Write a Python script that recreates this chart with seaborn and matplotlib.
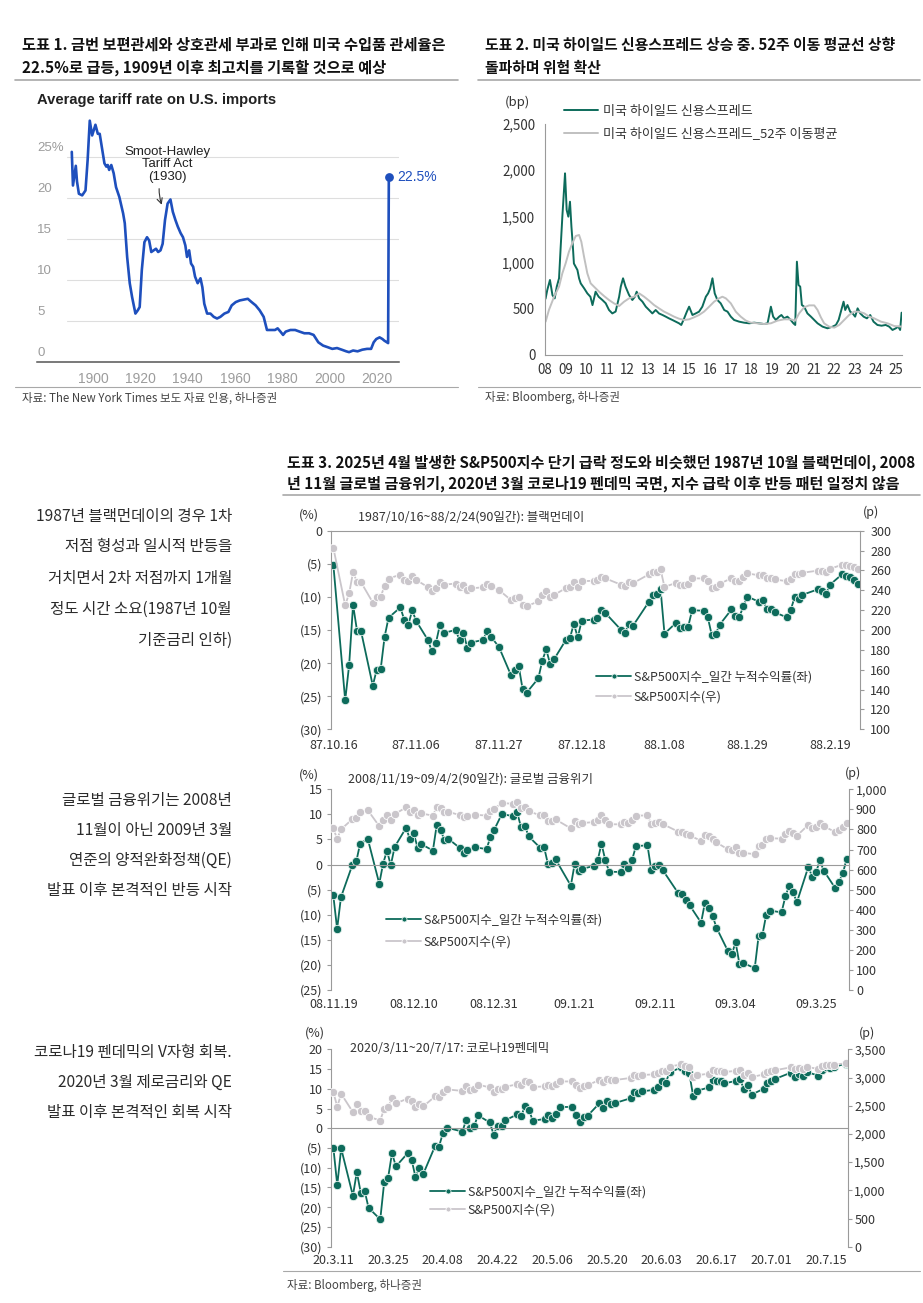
import matplotlib
matplotlib.use('Agg')
import numpy as np
import pandas as pd
import matplotlib.pyplot as plt
import matplotlib.dates as mdates
import seaborn as sns
from matplotlib.lines import Line2D

# ---- 도표 1: 미국 수입품 평균 관세율 (%) ----
tariff_year = [1891, 1891.5, 1892.7, 1893.2, 1894, 1895.4, 1896.8, 1897.7, 1898.6, 1899.6,
               1901, 1902, 1902.8, 1903.8, 1904.8, 1905.6, 1906.2, 1906.8, 1907.7, 1908.7,
               1909.7, 1911.1, 1912.7, 1913.4, 1914.4, 1915.5, 1916.5, 1917.9, 1918.9, 1919.7,
               1920.6, 1921.7, 1922.8, 1923.7, 1924.6, 1925.6, 1926.6, 1927.5, 1928.5, 1929.4,
               1930.4, 1931.5, 1932.7, 1933.7, 1934.8, 1935.8, 1937, 1938, 1939, 1939.7,
               1940.6, 1941.4, 1942.3, 1943.1, 1944.2, 1945.4, 1946.2, 1947, 1948.2, 1949.6,
               1951, 1952.4, 1953.8, 1955.5, 1957.2, 1958.6, 1960.3, 1962, 1963.7, 1965.4,
               1967, 1968.7, 1970.4, 1972.1, 1973.5, 1975.2, 1976.9, 1978, 1979.2, 1980.3,
               1981.4, 1983.4, 1985.4, 1987.3, 1989.3, 1991.3, 1993.2, 1995.2, 1997.2, 1999.2,
               2001.1, 2003.1, 2005.1, 2007, 2008.2, 2009.9, 2011.8, 2013.8, 2015.8, 2017.5,
               2018.6, 2019.7, 2021.1, 2022.3, 2023.1, 2024.2, 2024.7, 2025]
tariff_rate = [25.6, 21.5, 23.9, 22.0, 20.5, 20.3, 20.9, 24.6, 29.4, 27.6,
               28.9, 27.8, 27.8, 26.0, 24.2, 23.8, 24.0, 23.4, 24.0, 23.0,
               21.3, 20.1, 18.1, 16.9, 12.8, 9.6, 7.9, 5.9, 6.3, 6.7,
               11.2, 14.6, 15.2, 14.8, 13.4, 13.6, 13.8, 13.4, 13.6, 14.4,
               17.3, 19.3, 19.8, 18.3, 17.3, 16.5, 15.7, 15.2, 14.2, 12.8,
               13.6, 12.0, 11.6, 10.4, 9.6, 10.2, 9.1, 7.1, 5.9, 5.9,
               5.5, 5.3, 5.5, 5.9, 6.1, 6.9, 7.3, 7.5, 7.6, 7.7,
               7.3, 6.9, 6.3, 5.5, 3.9, 3.9, 3.9, 4.1, 3.7, 3.3,
               3.7, 3.9, 3.9, 3.7, 3.5, 3.5, 3.3, 2.4, 2.0, 1.8,
               1.6, 1.7, 1.5, 1.3, 1.2, 1.4, 1.3, 1.5, 1.6, 1.6,
               2.4, 2.8, 3.0, 2.8, 2.6, 2.4, 2.3, 22.5]
tariff_grid = [5, 10, 15, 20, 25]
tariff_grid_labels = ['5', '10', '15', '20', '25%']
tariff_xticks = [1900, 1920, 1940, 1960, 1980, 2000, 2020]

# ---- 도표 2: 미국 하이일드 신용스프레드 (bp) ----
spread_t = [2008.00, 2008.03, 2008.11, 2008.24, 2008.36, 2008.47, 2008.57, 2008.68, 2008.76, 2008.84,
            2008.92, 2008.97, 2009.05, 2009.13, 2009.21, 2009.28, 2009.34, 2009.40, 2009.57, 2009.65,
            2009.73, 2009.90, 2010.05, 2010.20, 2010.30, 2010.45, 2010.60, 2010.78, 2010.94, 2011.10,
            2011.26, 2011.42, 2011.59, 2011.67, 2011.78, 2011.90, 2012.07, 2012.23, 2012.35, 2012.44,
            2012.56, 2012.72, 2012.88, 2013.04, 2013.20, 2013.36, 2013.52, 2013.69, 2013.85, 2014.00,
            2014.17, 2014.33, 2014.49, 2014.60, 2014.74, 2014.87, 2014.98, 2015.14, 2015.30, 2015.46,
            2015.62, 2015.79, 2015.90, 2016.00, 2016.11, 2016.22, 2016.35, 2016.51, 2016.68, 2016.84,
            2017.00, 2017.16, 2017.40, 2017.64, 2017.89, 2018.13, 2018.37, 2018.61, 2018.78, 2018.94,
            2019.05, 2019.18, 2019.34, 2019.45, 2019.58, 2019.74, 2019.90, 2020.03, 2020.12, 2020.20,
            2020.28, 2020.36, 2020.44, 2020.55, 2020.71, 2020.88, 2021.04, 2021.20, 2021.44, 2021.68,
            2021.93, 2022.09, 2022.22, 2022.33, 2022.46, 2022.54, 2022.65, 2022.78, 2022.90, 2023.02,
            2023.14, 2023.27, 2023.43, 2023.59, 2023.75, 2023.91, 2024.10, 2024.30, 2024.50, 2024.67,
            2024.83, 2024.99, 2025.11, 2025.20, 2025.27]
spread_bp = [600, 613, 703, 812, 649, 613, 740, 830, 1172, 1497,
             1785, 1966, 1569, 1497, 1659, 1389, 1208, 990, 920, 830,
             775, 720, 667, 630, 540, 685, 630, 595, 560, 487,
             450, 470, 630, 740, 830, 740, 650, 595, 630, 685,
             613, 577, 523, 487, 450, 487, 450, 433, 415, 397,
             379, 361, 343, 325, 397, 469, 523, 433, 450, 469,
             523, 631, 667, 721, 830, 667, 595, 559, 487, 469,
             415, 379, 361, 350, 343, 350, 343, 335, 343, 523,
             415, 379, 415, 433, 397, 415, 379, 343, 325, 1010,
             757, 740, 541, 523, 450, 415, 379, 343, 307, 289,
             307, 325, 379, 469, 577, 487, 541, 469, 450, 415,
             505, 450, 415, 397, 433, 361, 325, 317, 325, 307,
             271, 289, 307, 271, 458]
ma_t = [2008.03, 2008.19, 2008.44, 2008.68, 2008.84, 2009.00, 2009.16, 2009.32, 2009.49, 2009.65,
        2009.76, 2009.89, 2010.05, 2010.21, 2010.37, 2010.62, 2010.86, 2011.10, 2011.34, 2011.59,
        2011.83, 2012.07, 2012.31, 2012.56, 2012.80, 2013.04, 2013.28, 2013.52, 2013.77, 2014.00,
        2014.25, 2014.49, 2014.74, 2014.98, 2015.22, 2015.46, 2015.70, 2015.95, 2016.19, 2016.43,
        2016.59, 2016.76, 2017.00, 2017.24, 2017.48, 2017.73, 2017.97, 2018.29, 2018.61, 2018.94,
        2019.26, 2019.58, 2019.90, 2020.12, 2020.31, 2020.55, 2020.79, 2021.04, 2021.20, 2021.36,
        2021.52, 2021.76, 2022.01, 2022.25, 2022.49, 2022.73, 2022.97, 2023.21, 2023.46, 2023.70,
        2023.94, 2024.27, 2024.59, 2024.91, 2025.27]
ma_bp = [361, 487, 631, 740, 884, 992, 1118, 1208, 1288, 1299,
         1226, 1064, 884, 776, 740, 685, 638, 595, 559, 530,
         577, 613, 631, 667, 631, 588, 541, 505, 469, 444,
         415, 393, 379, 386, 408, 433, 469, 523, 577, 613,
         631, 613, 559, 469, 415, 372, 350, 343, 335, 343,
         372, 386, 386, 372, 451, 516, 537, 537, 487, 408,
         343, 307, 296, 325, 379, 433, 469, 469, 451, 415,
         397, 361, 343, 314, 307]
spread_years = list(range(2008, 2026))
spread_labels = [f'{y % 100:02d}' for y in spread_years]
spread_yticks = [0, 500, 1000, 1500, 2000, 2500]

# ---- 도표 3: S&P500 급락 이후 반등 (누적수익률 %, 지수 p) ----
ret_1987 = [-5.16, -25.63, -20.29, -11.19, -15.12, -15.13, -23.41, -20.98, -20.94, -16.02, -13.15,
            -11.58, -13.50, -14.25, -12.03, -13.63, -16.52, -18.24, -17.02, -14.29, -15.45,
            -14.99, -16.50, -15.47, -17.71, -16.89, -16.49, -15.09, -16.02, -17.56, -21.74,
            -21.00, -20.37, -23.90, -24.48, -22.31, -19.62, -17.93, -20.16, -19.41, -16.49, -16.24,
            -14.07, -16.12, -13.58, -13.43, -13.26, -11.98, -12.43, -14.99, -15.39, -14.05, -14.37,
            -10.78, -9.73, -9.63, -8.79, -15.56, -13.88, -14.72, -14.56, -14.53, -12.02,
            -12.09, -13.11, -15.79, -15.58, -14.20, -11.90, -12.93, -13.01, -11.44, -9.95,
            -10.74, -10.53, -11.85, -11.85, -12.34, -13.08, -12.03, -10.07, -10.34, -9.69,
            -8.84, -9.08, -9.58, -8.15, -6.61, -6.84, -7.06, -7.38, -8.00]
idx_1987 = [282.70, 224.84, 236.83, 258.38, 248.25, 248.22, 227.67, 233.19, 233.28, 244.77, 251.79,
            255.75, 250.82, 248.96, 254.48, 250.41, 243.17, 239.00, 241.90, 248.52, 245.64,
            246.76, 243.04, 245.55, 240.05, 242.00, 242.99, 246.39, 244.10, 240.34, 230.30,
            232.00, 233.45, 225.21, 223.92, 228.76, 234.91, 238.89, 233.57, 235.32, 242.19, 242.81,
            248.08, 242.98, 249.16, 249.54, 249.95, 253.16, 252.03, 245.57, 244.59, 247.86, 247.08,
            255.94, 258.63, 258.89, 261.07, 243.40, 247.49, 245.42, 245.81, 245.88, 252.05,
            251.88, 249.32, 242.63, 243.14, 246.50, 252.17, 249.57, 249.38, 253.29, 257.07,
            255.04, 255.57, 252.21, 252.21, 250.96, 249.10, 251.72, 256.66, 255.95, 257.63,
            259.83, 259.21, 257.91, 261.61, 265.64, 265.02, 264.43, 263.60, 261.90]
ret_2008 = [-6.12, -12.83, -6.50, -0.03, 0.63, 4.16, 5.12,
            -3.81, 0.19, 2.77, -0.16, 3.49, 7.33, 5.02, 6.21, 3.36, 4.06, 2.79,
            7.93, 6.97, 4.85, 5.15, 3.32, 2.34, 2.92, 3.46, 3.07, 5.51, 6.93,
            10.09, 9.62, 10.40, 7.40, 7.74, 5.61, 3.35, 3.53, 0.18, 0.32,
            1.07, -4.21, 0.14, -1.38, -0.84, -0.28, 0.81, 4.16, 0.85, -1.43,
            -1.48, 0.10, -0.65, 0.99, 3.68, 3.83, -1.09, -0.29, -0.12, -1.12,
            -5.67, -5.77, -6.97, -8.11, -11.58, -7.57, -8.64, -10.22, -12.57,
            -17.24, -17.88, -15.50, -19.76, -19.63, -20.64, -14.27, -14.03, -9.96, -9.18,
            -9.53, -6.32, -4.23, -5.53, -7.51, -0.43, -2.48, -1.51, 0.82, -1.21, -4.69, -3.38,
            -1.72, 1.15]
idx_2008 = [806.58, 752.44, 800.03, 851.81, 857.39, 887.68, 896.24,
            816.21, 848.81, 870.74, 845.22, 876.07, 909.70, 888.67, 899.24, 873.59, 879.73, 868.57,
            913.18, 904.42, 885.28, 887.88, 871.63, 863.16, 868.15, 872.80, 869.42, 890.64, 903.25,
            931.80, 927.45, 934.70, 906.65, 909.73, 890.35, 870.26, 871.79, 842.62, 843.74,
            850.12, 805.22, 840.24, 827.50, 831.95, 836.57, 845.71, 874.09, 845.14, 825.88,
            825.44, 838.51, 832.23, 845.85, 868.60, 869.89, 827.16, 833.74, 835.19, 826.84,
            789.17, 788.42, 778.94, 770.05, 743.33, 773.14, 764.90, 752.83, 735.09,
            700.82, 696.33, 712.87, 682.55, 683.38, 676.53, 719.60, 721.36, 750.74, 756.55,
            753.89, 778.12, 794.35, 784.04, 768.54, 822.92, 806.12, 813.88, 832.86, 815.94, 787.53, 797.87,
            811.08, 834.38]
ret_2020 = [-4.89, -14.40, -5.11, -17.09, -11.10, -16.28, -15.81, -20.15, -23.08, -13.69,
            -12.54, -6.30, -9.67, -6.32, -7.92,
            -12.33, -10.05, -11.56, -4.53, -4.69, -1.29, 0.16, -0.85, 2.21, 0.00,
            0.58, 3.26, 1.47, -1.60, 0.69, 0.64, 2.03, 3.50, 2.98, 5.64, 4.72,
            1.91, 2.34, 3.24, 2.54, 3.69, 5.38, 5.40, 3.34, 1.60, 2.75,
            3.14, 6.29, 5.24, 6.91, 6.13, 6.37, 7.60, 9.08, 8.87, 9.35,
            9.73, 10.55, 11.91, 11.58, 14.20, 15.40, 14.62, 14.09, 8.19, 9.50, 10.33,
            12.23, 11.87, 11.93, 11.36, 12.01, 12.44, 9.86, 10.95, 8.53, 10.00, 11.54,
            12.04, 12.50, 14.09, 13.01, 13.79, 13.22, 14.27, 13.33, 14.67, 15.58, 15.24, 15.52, 16.36]
idx_2020 = [2741.38, 2480.64, 2711.02, 2386.13, 2529.19, 2398.10, 2409.39, 2304.92, 2237.40, 2447.33,
            2475.56, 2630.07, 2541.47, 2626.65, 2584.59,
            2470.50, 2526.90, 2488.65, 2663.68, 2659.41, 2749.98, 2789.82, 2761.63, 2846.06, 2783.36,
            2799.55, 2874.56, 2823.16, 2736.56, 2799.31, 2797.80, 2836.74, 2878.48, 2863.39, 2939.51, 2912.43,
            2830.71, 2842.74, 2868.44, 2848.42, 2881.19, 2929.80, 2930.32, 2870.12, 2820.00, 2852.50,
            2863.70, 2953.91, 2922.94, 2971.61, 2948.51, 2955.45, 2991.77, 3036.13, 3029.73, 3044.31,
            3055.73, 3080.82, 3122.87, 3112.35, 3193.93, 3232.39, 3207.18, 3190.14, 3002.10, 3041.31, 3066.59,
            3124.74, 3113.49, 3115.34, 3097.74, 3117.86, 3131.29, 3050.33, 3083.76, 3009.05, 3053.24, 3100.29,
            3115.86, 3130.01, 3179.72, 3145.32, 3169.94, 3152.05, 3185.04, 3155.22, 3197.52, 3226.56,
            3215.57, 3224.73, 3251.84]

hol_1987 = ['1987-11-26', '1987-12-25', '1988-01-01', '1988-02-15']
hol_2008 = ['2008-11-27', '2008-12-25', '2009-01-01', '2009-01-19', '2009-02-16']
hol_2020 = ['2020-04-10', '2020-05-25', '2020-07-03']

ticks_1987 = ['1987-10-16', '1987-11-06', '1987-11-27', '1987-12-18', '1988-01-08', '1988-01-29', '1988-02-19']
labels_1987 = ['87.10.16', '87.11.06', '87.11.27', '87.12.18', '88.1.08', '88.1.29', '88.2.19']
ticks_2008 = ['2008-11-19', '2008-12-10', '2008-12-31', '2009-01-21', '2009-02-11', '2009-03-04', '2009-03-25']
labels_2008 = ['08.11.19', '08.12.10', '08.12.31', '09.1.21', '09.2.11', '09.3.04', '09.3.25']
ticks_2020 = ['2020-03-11', '2020-03-25', '2020-04-08', '2020-04-22', '2020-05-06', '2020-05-20',
              '2020-06-03', '2020-06-17', '2020-07-01', '2020-07-15']
labels_2020 = ['20.3.11', '20.3.25', '20.4.08', '20.4.22', '20.5.06', '20.5.20',
               '20.6.03', '20.6.17', '20.7.01', '20.7.15']

# ---- style ----
sns.set_style('white')
plt.rcParams['font.family'] = ['Noto Sans CJK KR', 'DejaVu Sans']
plt.rcParams['axes.unicode_minus'] = False

W, H = 923, 1303
BLUE = '#1e4fbd'
GREEN = '#0d6b5b'
LGRAY = '#c0c0c0'
LAV = '#cac6cb'
TXT = '#333333'
AX = '#9a9a9a'
LATIN = ['Liberation Sans', 'DejaVu Sans']

fig = plt.figure(figsize=(W / 100, H / 100), dpi=100)


def pbox(l, t, r, b):
    return [l / W, 1 - b / H, (r - l) / W, (b - t) / H]


def ftext(x, y, s, **kw):
    kw.setdefault('va', 'center')
    kw.setdefault('color', TXT)
    fig.text(x / W, 1 - y / H, s, **kw)


def hline(x0, x1, y, color='#a8a8a8', lw=1.2):
    fig.add_artist(Line2D([x0 / W, x1 / W], [1 - y / H, 1 - y / H], color=color, lw=lw))


def paren(v):
    return f'({abs(v)})' if v < 0 else f'{v}'


# ---- titles / sources ----
TSIZE = 11
ftext(22, 45, '도표 1. 금번 보편관세와 상호관세 부과로 인해 미국 수입품 관세율은', fontsize=TSIZE, fontweight='bold', color='#111')
ftext(22, 68, '22.5%로 급등, 1909년 이후 최고치를 기록할 것으로 예상', fontsize=TSIZE, fontweight='bold', color='#111')
hline(15, 458, 80)
ftext(485, 45, '도표 2. 미국 하이일드 신용스프레드 상승 중. 52주 이동 평균선 상향', fontsize=10.7, fontweight='bold', color='#111')
ftext(485, 68, '돌파하며 위험 확산', fontsize=10.7, fontweight='bold', color='#111')
hline(478, 920, 80)
hline(15, 458, 387, lw=0.8)
hline(478, 920, 387, lw=0.8)
ftext(22, 398, '자료: The New York Times 보도 자료 인용, 하나증권', fontsize=8.3, color='#444')
ftext(485, 398, '자료: Bloomberg, 하나증권', fontsize=8.3, color='#444')

ftext(287, 463, '도표 3. 2025년 4월 발생한 S&P500지수 단기 급락 정도와 비슷했던 1987년 10월 블랙먼데이, 2008',
      fontsize=10.85, fontweight='bold', color='#111')
ftext(287, 484, '년 11월 글로벌 금융위기, 2020년 3월 코로나19 펜데믹 국면, 지수 급락 이후 반등 패턴 일정치 않음',
      fontsize=10.85, fontweight='bold', color='#111')
hline(283, 920, 495)
hline(283, 920, 1271, lw=0.8)
ftext(287, 1285, '자료: Bloomberg, 하나증권', fontsize=8.3, color='#444')

# ---- side notes ----
notes = [(516, 31, ['1987년 블랙먼데이의 경우 1차', '저점 형성과 일시적 반등을', '거치면서 2차 저점까지 1개월',
                    '정도 시간 소요(1987년 10월', '기준금리 인하)']),
         (800, 30, ['글로벌 금융위기는 2008년', '11월이 아닌 2009년 3월', '연준의 양적완화정책(QE)',
                    '발표 이후 본격적인 반등 시작']),
         (1053, 29.5, ['코로나19 펜데믹의 V자형 회복.', '2020년 3월 제로금리와 QE', '발표 이후 본격적인 회복 시작'])]
for y0, step, lines in notes:
    for i, s in enumerate(lines):
        ftext(232, y0 + i * step, s, fontsize=11.2, ha='right', color='#2b2b2b')

# ---- 도표 1 ----
ax1 = fig.add_axes(pbox(37, 110, 399, 362))
sns.lineplot(x=tariff_year, y=tariff_rate, ax=ax1, color=BLUE, lw=1.9)
ax1.set_xlim(1876.3, 2029.3)
ax1.set_ylim(0, 30.7)
for v in tariff_grid:
    ax1.axhline(v, xmin=0.083, color='#dedede', lw=0.8, zorder=0)
for v, lab in zip([0] + tariff_grid, ['0'] + tariff_grid_labels):
    ax1.text(0.0, v + 1.1, lab, transform=ax1.get_yaxis_transform(), color='#9c9c9c',
             fontsize=9.5, family=LATIN, va='center', ha='left')
ax1.set_xticks(tariff_xticks)
ax1.set_xticklabels([str(y) for y in tariff_xticks], family=LATIN)
ax1.tick_params(axis='x', length=0, labelsize=10, labelcolor='#9c9c9c', pad=7)
ax1.set_yticks([])
for s in ['top', 'right', 'left']:
    ax1.spines[s].set_visible(False)
ax1.spines['bottom'].set_color('#555')
ax1.spines['bottom'].set_linewidth(1.1)
ax1.set_xlabel('')
ax1.set_ylabel('')
ax1.scatter(tariff_year[-1:], tariff_rate[-1:], s=28, color=BLUE, zorder=5)
ax1.annotate(f'{tariff_rate[-1]}%', xy=(tariff_year[-1], tariff_rate[-1]), xytext=(6, 0),
             textcoords='offset points', color=BLUE, fontsize=10, family=LATIN, va='center')
ax1.annotate('Smoot-Hawley\nTariff Act\n(1930)', xy=(1929.2, 19.0), xytext=(1931.3, 24.1),
             ha='center', va='center', fontsize=9.5, family=LATIN, color='#222', linespacing=1.05,
             arrowprops=dict(arrowstyle='->', color='#333', lw=0.8, connectionstyle='arc3,rad=0.25',
                             shrinkA=2, shrinkB=1))
ftext(37, 100, 'Average tariff rate on U.S. imports', fontsize=10.6, fontweight='bold', family=LATIN, color='#222')

# ---- 도표 2 ----
ax2 = fig.add_axes(pbox(545, 124, 902, 355))
sns.lineplot(x=spread_t, y=spread_bp, ax=ax2, color=GREEN, lw=1.4, label='미국 하이일드 신용스프레드')
sns.lineplot(x=ma_t, y=ma_bp, ax=ax2, color=LGRAY, lw=1.4, label='미국 하이일드 신용스프레드_52주 이동평균')
ax2.set_xlim(2008, 2025.29)
ax2.set_ylim(0, 2500)
ax2.set_yticks(spread_yticks)
ax2.set_yticklabels([f'{v:,}' for v in spread_yticks])
ax2.set_xticks(spread_years)
ax2.set_xticklabels(spread_labels)
ax2.tick_params(axis='y', length=3, color=AX, labelsize=9.6, labelcolor=TXT, pad=4)
ax2.tick_params(axis='x', length=0, labelsize=9.6, labelcolor=TXT, pad=6)
for s in ['top', 'right']:
    ax2.spines[s].set_visible(False)
for s in ['left', 'bottom']:
    ax2.spines[s].set_color(AX)
ax2.set_xlabel('')
ax2.set_ylabel('')
ax2.legend(loc='center left', bbox_to_anchor=(564 / W, 1 - 122.5 / H), bbox_transform=fig.transFigure,
           frameon=False, fontsize=9.4, handlelength=2.6, handletextpad=0.35, labelspacing=0.75,
           borderpad=0, borderaxespad=0, labelcolor=TXT)
ftext(517, 102, '(bp)', fontsize=9.4, ha='center')


# ---- 도표 3 ----
def trading_days(start, end, holidays):
    d = pd.bdate_range(start, end)
    return d[~d.isin(pd.to_datetime(holidays))]


def sp_panel(top, bottom, right, days, ret, idx, ylim, ystep, y2lim, y2step,
             tick_days, tick_labels, label_gap, rpad):
    ax = fig.add_axes(pbox(331, top, right, bottom))
    x = mdates.date2num(days.to_pydatetime())
    sns.lineplot(x=x, y=ret, ax=ax, color=GREEN, lw=1.3, marker='o', markersize=6,
                 markeredgecolor='#e2f1ec', markeredgewidth=0.6, legend=False)
    axr = ax.twinx()
    sns.lineplot(x=x, y=idx, ax=axr, color=LAV, lw=1.3, marker='o', markersize=6,
                 markeredgecolor='white', markeredgewidth=0.6, legend=False)
    ax.set_xlim(x[0] - 0.6, x[-1] + 0.6)
    ax.set_ylim(*ylim)
    axr.set_ylim(*y2lim)
    yt = list(range(ylim[0], ylim[1] + 1, ystep))
    ax.set_yticks(yt)
    ax.set_yticklabels([paren(v) for v in yt])
    yt2 = list(range(y2lim[0], y2lim[1] + 1, y2step))
    axr.set_yticks(yt2)
    axr.set_yticklabels([f'{v:,}' for v in yt2])
    ax.tick_params(axis='y', length=3, width=0.8, color=AX, labelsize=9, labelcolor=TXT, pad=3)
    axr.tick_params(axis='y', length=3, width=0.8, color=AX, labelsize=9, labelcolor=TXT, pad=rpad)
    tx = mdates.date2num(pd.to_datetime(tick_days).to_pydatetime())
    ax.set_xticks(tx)
    ax.tick_params(axis='x', length=3, width=0.8, color=AX, labelbottom=False)
    ax.spines['bottom'].set_position(('data', 0))
    for s in ['top', 'right']:
        ax.spines[s].set_visible(False)
    for s in ['left', 'bottom']:
        ax.spines[s].set_color(AX)
    for s in ['top', 'bottom', 'left']:
        axr.spines[s].set_visible(False)
    axr.spines['right'].set_color(AX)
    for xv, lab in zip(tx, tick_labels):
        ax.annotate(lab, xy=(xv, 0), xycoords=('data', 'axes fraction'), xytext=(0, -label_gap),
                    textcoords='offset pixels', ha='center', va='center', fontsize=9, color=TXT,
                    annotation_clip=False)
    for a in (ax, axr):
        a.set_xlabel('')
        a.set_ylabel('')
    return ax, axr


LEG1 = 'S&P500지수_일간 누적수익률(좌)'
LEG2 = 'S&P500지수(우)'

days_1987 = trading_days('1987-10-16', '1988-02-26', hol_1987)
axA, axA2 = sp_panel(530.7, 729.3, 860, days_1987, ret_1987, idx_1987, (-30, 0), 5, (100, 300), 20,
                     ticks_1987, labels_1987, 16, 4.5)
days_2008 = trading_days('2008-11-19', '2009-04-02', hol_2008)
axB, axB2 = sp_panel(789.3, 990, 849, days_2008, ret_2008, idx_2008, (-25, 15), 5, (0, 1000), 100,
                     ticks_2008, labels_2008, 14, 2)
days_2020 = trading_days('2020-03-11', '2020-07-20', hol_2020)
axC, axC2 = sp_panel(1049.3, 1246.7, 848, days_2020, ret_2020, idx_2020, (-30, 20), 5, (0, 3500), 500,
                     ticks_2020, labels_2020, 14, 1.5)

for (a, a2), (lx, ly, sp) in zip([(axA, axA2), (axB, axB2), (axC, axC2)],
                                 [(596, 687, 0.55), (386, 931, 0.75), (430, 1201, 0.4)]):
    a2.legend([a.get_lines()[0], a2.get_lines()[0]], [LEG1, LEG2], loc='center left',
              bbox_to_anchor=(lx / W, 1 - ly / H), bbox_transform=fig.transFigure, frameon=False,
              fontsize=9, handlelength=2.8, handletextpad=0.2, labelspacing=sp, borderpad=0,
              borderaxespad=0, markerscale=0.6, labelcolor=TXT)

ftext(309, 515, '(%)', fontsize=9, ha='center')
ftext(871, 512, '(p)', fontsize=9, ha='center')
ftext(358, 517, '1987/10/16~88/2/24(90일간): 블랙먼데이', fontsize=9)
ftext(309, 775, '(%)', fontsize=9, ha='center')
ftext(853, 773, '(p)', fontsize=9, ha='center')
ftext(348, 779, '2008/11/19~09/4/2(90일간): 글로벌 금융위기', fontsize=9)
ftext(315, 1033, '(%)', fontsize=9, ha='center')
ftext(867, 1033, '(p)', fontsize=9, ha='center')
ftext(350, 1049, '2020/3/11~20/7/17: 코로나19펜데믹', fontsize=9)

fig.savefig('out.png', dpi=100)
